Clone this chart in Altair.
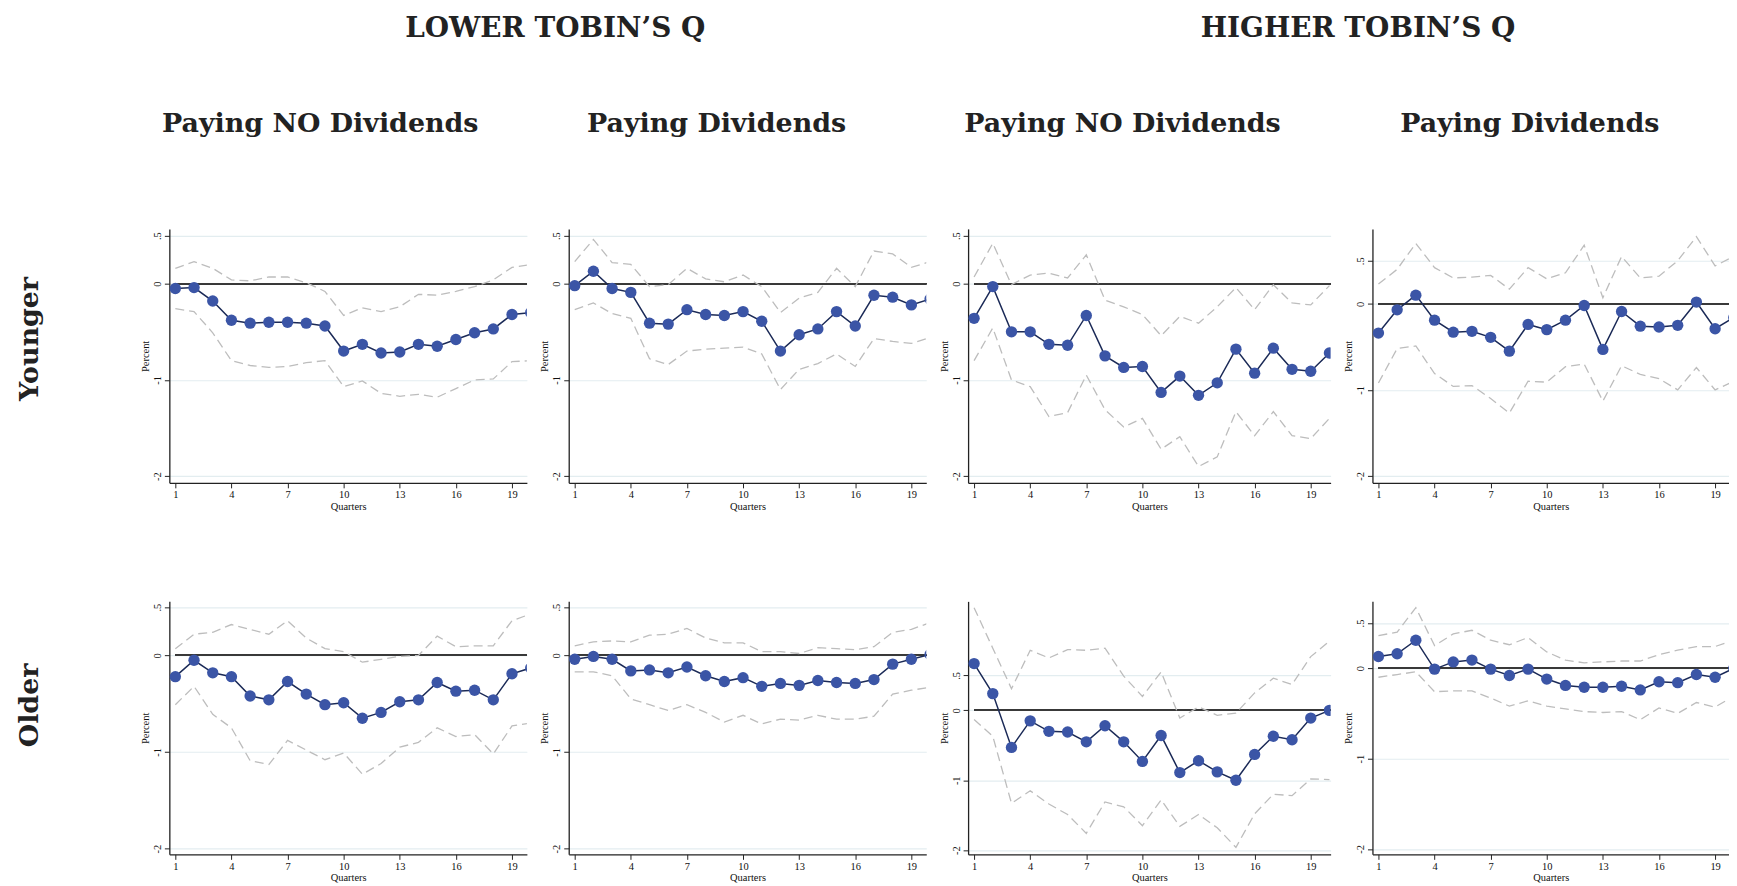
import altair as alt
import pandas as pd

QUARTERS = list(range(1, 21))
X_TICKS = [1, 4, 7, 10, 13, 16, 19]
Y_TICKS = [-2, -1, 0, 0.5]
Y_TICK_LABELS = ["-2", "-1", "0", ".5"]

GROUP_TITLES = ["LOWER TOBIN\u2019S Q", "HIGHER TOBIN\u2019S Q"]
COL_TITLES = ["Paying NO Dividends", "Paying Dividends", "Paying NO Dividends", "Paying Dividends"]
ROW_TITLES = ["Younger", "Older"]

# Younger, lower Q, no dividends
YL_ND_EST = [-0.05, -0.04, -0.18, -0.38, -0.41, -0.40, -0.40, -0.41, -0.44, -0.70, -0.63, -0.72, -0.71, -0.63, -0.65, -0.58, -0.51, -0.47, -0.32, -0.30]
YL_ND_UP = [0.16, 0.23, 0.16, 0.04, 0.03, 0.07, 0.07, 0.01, -0.08, -0.33, -0.25, -0.29, -0.24, -0.11, -0.12, -0.08, -0.03, 0.04, 0.17, 0.20]
YL_ND_LO = [-0.26, -0.29, -0.51, -0.80, -0.85, -0.87, -0.86, -0.82, -0.80, -1.07, -1.01, -1.14, -1.17, -1.15, -1.18, -1.09, -1.00, -0.99, -0.81, -0.80]
# Younger, lower Q, dividends
YL_D_EST = [-0.02, 0.13, -0.05, -0.09, -0.41, -0.42, -0.27, -0.32, -0.33, -0.29, -0.39, -0.70, -0.53, -0.47, -0.29, -0.44, -0.12, -0.14, -0.22, -0.16]
YL_D_UP = [0.23, 0.46, 0.22, 0.20, -0.03, -0.01, 0.16, 0.05, 0.02, 0.09, -0.03, -0.30, -0.15, -0.09, 0.16, -0.03, 0.34, 0.31, 0.17, 0.23]
YL_D_LO = [-0.27, -0.20, -0.31, -0.36, -0.78, -0.84, -0.70, -0.68, -0.67, -0.66, -0.73, -1.10, -0.89, -0.83, -0.73, -0.86, -0.57, -0.60, -0.62, -0.56]
# Younger, higher Q, no dividends
YH_ND_EST = [-0.36, -0.03, -0.50, -0.50, -0.63, -0.64, -0.33, -0.75, -0.87, -0.86, -1.13, -0.96, -1.16, -1.03, -0.68, -0.93, -0.67, -0.89, -0.91, -0.72]
YH_ND_UP = [0.07, 0.42, -0.01, 0.09, 0.11, 0.06, 0.30, -0.17, -0.24, -0.32, -0.54, -0.34, -0.41, -0.24, -0.04, -0.27, -0.01, -0.20, -0.22, -0.02]
YH_ND_LO = [-0.80, -0.46, -1.00, -1.07, -1.38, -1.34, -0.95, -1.31, -1.49, -1.40, -1.72, -1.59, -1.90, -1.80, -1.33, -1.58, -1.33, -1.58, -1.61, -1.40]
# Younger, higher Q, dividends
YH_D_EST = [-0.34, -0.07, 0.10, -0.19, -0.33, -0.32, -0.39, -0.55, -0.24, -0.30, -0.19, -0.02, -0.53, -0.09, -0.26, -0.27, -0.25, 0.02, -0.29, -0.16]
YH_D_UP = [0.23, 0.40, 0.70, 0.42, 0.30, 0.31, 0.33, 0.17, 0.42, 0.29, 0.36, 0.68, 0.07, 0.55, 0.30, 0.32, 0.50, 0.78, 0.44, 0.55]
YH_D_LO = [-0.92, -0.52, -0.49, -0.81, -0.96, -0.95, -1.10, -1.27, -0.90, -0.91, -0.73, -0.70, -1.13, -0.72, -0.82, -0.87, -1.00, -0.74, -1.00, -0.90]
# Older, lower Q, no dividends
OL_ND_EST = [-0.22, -0.05, -0.18, -0.22, -0.42, -0.46, -0.27, -0.40, -0.51, -0.49, -0.65, -0.59, -0.48, -0.46, -0.28, -0.37, -0.36, -0.46, -0.19, -0.13]
OL_ND_UP = [0.07, 0.22, 0.24, 0.32, 0.27, 0.22, 0.36, 0.18, 0.07, 0.04, -0.07, -0.04, -0.01, 0.00, 0.20, 0.09, 0.10, 0.10, 0.36, 0.43]
OL_ND_LO = [-0.51, -0.32, -0.61, -0.75, -1.09, -1.13, -0.88, -0.98, -1.08, -1.01, -1.23, -1.12, -0.95, -0.90, -0.75, -0.84, -0.82, -1.02, -0.73, -0.70]
# Older, lower Q, dividends
OL_D_EST = [-0.04, -0.01, -0.04, -0.16, -0.15, -0.18, -0.12, -0.21, -0.27, -0.23, -0.32, -0.29, -0.31, -0.26, -0.28, -0.29, -0.25, -0.09, -0.04, 0.01]
OL_D_UP = [0.10, 0.14, 0.15, 0.14, 0.21, 0.22, 0.28, 0.18, 0.13, 0.13, 0.04, 0.04, 0.02, 0.08, 0.07, 0.06, 0.09, 0.24, 0.27, 0.34]
OL_D_LO = [-0.17, -0.17, -0.21, -0.45, -0.51, -0.57, -0.51, -0.59, -0.69, -0.62, -0.71, -0.66, -0.67, -0.62, -0.66, -0.66, -0.63, -0.40, -0.36, -0.33]
# Older, higher Q, no dividends
OH_ND_EST = [0.67, 0.24, -0.53, -0.15, -0.30, -0.31, -0.45, -0.22, -0.45, -0.73, -0.36, -0.89, -0.72, -0.88, -1.00, -0.63, -0.37, -0.42, -0.11, 0.00]
OH_ND_UP = [1.47, 0.89, 0.31, 0.86, 0.75, 0.87, 0.86, 0.89, 0.49, 0.20, 0.55, -0.11, 0.05, -0.07, -0.04, 0.25, 0.46, 0.37, 0.77, 0.99]
OH_ND_LO = [-0.13, -0.37, -1.33, -1.15, -1.34, -1.49, -1.76, -1.31, -1.38, -1.65, -1.28, -1.66, -1.49, -1.68, -1.96, -1.48, -1.20, -1.22, -0.98, -0.99]
# Older, higher Q, dividends
OH_D_EST = [0.13, 0.16, 0.31, -0.01, 0.07, 0.09, -0.01, -0.08, -0.01, -0.12, -0.19, -0.21, -0.21, -0.20, -0.24, -0.15, -0.16, -0.07, -0.10, 0.00]
OH_D_UP = [0.36, 0.40, 0.67, 0.25, 0.38, 0.42, 0.31, 0.26, 0.34, 0.18, 0.09, 0.06, 0.07, 0.08, 0.08, 0.15, 0.20, 0.24, 0.24, 0.31]
OH_D_LO = [-0.10, -0.07, -0.04, -0.26, -0.25, -0.25, -0.33, -0.42, -0.36, -0.42, -0.45, -0.48, -0.49, -0.48, -0.57, -0.44, -0.50, -0.38, -0.43, -0.31]

# y ranges of each panel (axis extents)
Y_DOMAINS = [
    [-2.07, 0.57], [-2.07, 0.57], [-2.07, 0.57], [-2.08, 0.87],
    [-2.06, 0.56], [-2.06, 0.56], [-2.06, 1.56], [-2.06, 0.74],
]

# ---------------- styling / layout ----------------
SERIF = "Liberation Serif"
TITLE_FONT = "DejaVu Serif"
PXQ = 18.78          # pixels per quarter
X0 = 0.68            # left end of x range
WIDTHS = [359, 359, 364, 358]
HEIGHTS = [255, 254]
COL_TITLE_DX = [-28, -31, -27, -21]
GROUP_TITLE_DX = [22, 24]
EST_LINE = "#1b2a57"
EST_PT = "#3b55a6"
CI_COL = "#bdbdbd"
ZERO_COL = "#3a3a3a"
GRID_COL = "#e3edf0"

label_expr = " : ".join(
    f"datum.value == {v} ? '{t}'" for v, t in zip(Y_TICKS, Y_TICK_LABELS)
) + " : ''"


def make_panel(est, up, lo, ydom, width, height, title=None, title_dx=0):
    df = pd.DataFrame({"q": QUARTERS, "est": est, "up": up, "lo": lo})
    xs = alt.Scale(domain=[X0, X0 + width / PXQ], nice=False, zero=False)
    ys = alt.Scale(domain=ydom, nice=False, zero=False)
    xaxis = alt.Axis(values=X_TICKS, title="Quarters", grid=False, format="d")
    yaxis = alt.Axis(values=Y_TICKS, title="Percent", grid=True, labelExpr=label_expr)
    base = alt.Chart(df)
    zero = base.mark_rule(color=ZERO_COL, strokeWidth=1.2, clip=True).encode(
        x=alt.X(datum=1, scale=xs, axis=xaxis),
        x2=alt.X2(datum=25),
        y=alt.Y(datum=0, scale=ys, axis=yaxis),
    )
    x_enc = alt.X("q:Q", scale=xs, axis=xaxis)
    up_l = base.mark_line(color=CI_COL, strokeWidth=1.3, strokeDash=[9, 5], clip=True).encode(
        x=x_enc, y=alt.Y("up:Q", scale=ys, axis=yaxis))
    lo_l = base.mark_line(color=CI_COL, strokeWidth=1.3, strokeDash=[9, 5], clip=True).encode(
        x=x_enc, y=alt.Y("lo:Q", scale=ys, axis=yaxis))
    est_l = base.mark_line(color=EST_LINE, strokeWidth=1.5, clip=True).encode(
        x=x_enc, y=alt.Y("est:Q", scale=ys, axis=yaxis))
    pts = base.mark_circle(color=EST_PT, opacity=1, size=130, clip=True).encode(
        x=x_enc, y=alt.Y("est:Q", scale=ys, axis=yaxis))
    ch = alt.layer(zero, up_l, lo_l, est_l, pts).properties(width=width, height=height)
    if title is not None:
        ch = ch.properties(title=alt.TitleParams(
            title, font=TITLE_FONT, fontSize=27, fontWeight="bold", color="#222222",
            offset=91, dx=title_dx, anchor="middle"))
    return ch


SERIES = [
    (YL_ND_EST, YL_ND_UP, YL_ND_LO), (YL_D_EST, YL_D_UP, YL_D_LO),
    (YH_ND_EST, YH_ND_UP, YH_ND_LO), (YH_D_EST, YH_D_UP, YH_D_LO),
    (OL_ND_EST, OL_ND_UP, OL_ND_LO), (OL_D_EST, OL_D_UP, OL_D_LO),
    (OH_ND_EST, OH_ND_UP, OH_ND_LO), (OH_D_EST, OH_D_UP, OH_D_LO),
]

panels = []
for i, (e, u, l) in enumerate(SERIES):
    col = i % 4
    row = i // 4
    panels.append(make_panel(
        e, u, l, Y_DOMAINS[i], WIDTHS[col], HEIGHTS[row],
        title=COL_TITLES[col] if row == 0 else None, title_dx=COL_TITLE_DX[col]))

S_IN = 13
S_OUT = 13


def group_title(t, dx):
    return alt.TitleParams(t, font=TITLE_FONT, fontSize=28, fontWeight="bold",
                           color="#222222", offset=68, dx=dx, anchor="middle")


def row_title(t, dx):
    return alt.TitleParams(t, font=TITLE_FONT, fontSize=27, fontWeight="bold",
                           color="#222222", orient="left", offset=97, dx=dx, anchor="middle")


row1 = alt.hconcat(
    alt.hconcat(panels[0], panels[1], spacing=S_IN,
                title=group_title(GROUP_TITLES[0], GROUP_TITLE_DX[0])),
    alt.hconcat(panels[2], panels[3], spacing=S_IN,
                title=group_title(GROUP_TITLES[1], GROUP_TITLE_DX[1])),
    spacing=S_OUT, title=row_title(ROW_TITLES[0], -76),
)
row2 = alt.hconcat(
    alt.hconcat(panels[4], panels[5], spacing=S_IN),
    alt.hconcat(panels[6], panels[7], spacing=S_IN),
    spacing=S_OUT, title=row_title(ROW_TITLES[1], 37),
)

chart = alt.vconcat(row1, row2, spacing=90).configure(
    padding={"left": 8, "top": 5, "right": 0, "bottom": 0}
).configure_view(stroke=None).configure_axis(
    labelFont=SERIF, titleFont=SERIF, labelFontSize=10.5, titleFontSize=10.5,
    titleFontWeight="normal", labelColor="#111111", titleColor="#111111",
    domainColor="#222222", domainWidth=1.3, tickColor="#222222", tickSize=5,
    tickWidth=1, gridColor=GRID_COL, gridWidth=1.2,
).configure_axisX(
    labelPadding=2, titlePadding=1, labelAngle=0,
).configure_axisY(
    labelAngle=270, labelAlign="center", labelBaseline="bottom", labelPadding=2,
    titlePadding=2, minExtent=17, maxExtent=17,
)

chart.save("out.html", embed_options={"renderer": "svg", "actions": False})
